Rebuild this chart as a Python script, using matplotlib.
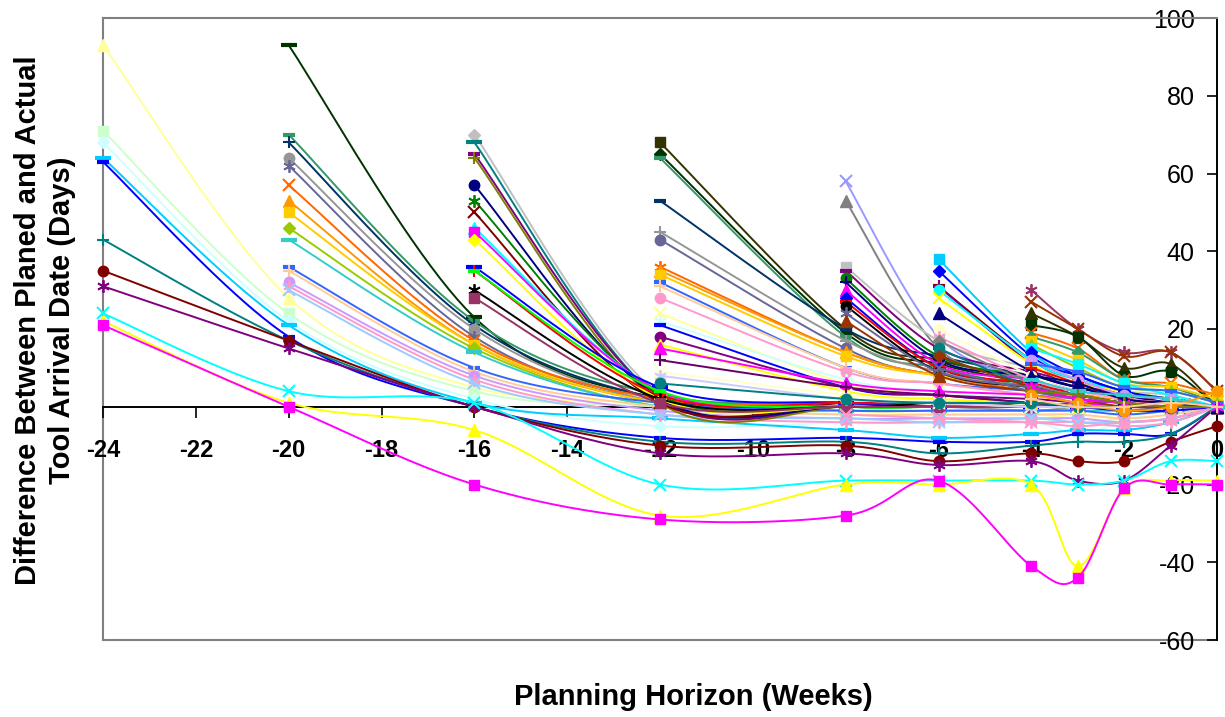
import numpy as np
import matplotlib
matplotlib.use('Agg')
import matplotlib.pyplot as plt

plt.rcParams['font.family'] = ['Liberation Sans', 'DejaVu Sans']

# Planning horizon (weeks) at which each estimate was taken
weeks = [-24, -20, -16, -12, -8, -6, -4, -3, -2, -1, 0]

# Each row lists one tool's deviation (days), starting from the week it first appears
start_m24 = [
    [93, 28, 5, 1, -1, -2, -2, -3, -2, -1, 0],
    [71, 24, 4, 0, -2, -3, -3, -4, -3, -2, 0],
    [68, 22, 2, -5, -4, -4, -4, -7, -4, -3, 0],
    [64, 21, 1, -3, -6, -8, -7, -6, -6, -4, 0],
    [63, 18, 0, -8, -8, -9, -9, -7, -7, -7, 0],
    [43, 17, 0, -9, -9, -12, -10, -9, -9, -7, 0],
    [35, 17, 0, -10, -10, -14, -12, -14, -14, -9, -5],
    [31, 15, 0, -12, -12, -15, -14, -19, -19, -10, 0],
    [24, 4, 1, -20, -19, -19, -19, -20, -19, -14, -14],
    [22, 1, -6, -28, -20, -20, -20, -41, -21, -19, -19],
    [21, 0, -20, -29, -28, -19, -41, -44, -21, -20, -20],
]
colors_m24 = ['#FFFF99', '#CCFFCC', '#CCFFFF', '#00CCFF', '#0000FF', '#008080',
              '#800000', '#800080', '#00FFFF', '#FFFF00', '#FF00FF']
markers_m24 = ['^', 's', 'D', '=', '-', '+', 'o', '*', 'x', '^', 's']

start_m20 = [
    [93, 23, 2, 1, 0, 0, 0, 0, 0, 0],
    [70, 22, 3, 1, 1, 0, 0, 0, 0, 0],
    [68, 21, 2, 0, 0, 0, 0, 0, 0, 0],
    [64, 20, 1, 0, 0, -1, 0, 0, 0, 0],
    [62, 18, 1, 1, 0, 0, 0, -1, 0, 0],
    [57, 17, 2, 1, 1, 0, 1, 0, 0, 0],
    [53, 16, 1, 0, 0, 0, 0, 0, 0, 0],
    [50, 16, 1, 0, 0, 1, 0, 0, 0, 0],
    [46, 15, 0, 0, 0, 0, 0, 0, 0, 0],
    [43, 14, 0, -1, -1, -1, -1, -1, -1, 0],
    [36, 10, 1, -1, -1, -1, -1, -2, -1, 0],
    [35, 9, 0, -2, -2, -2, -2, -3, -2, 0],
    [32, 8, -1, -3, -3, -3, -3, -4, -3, 0],
    [31, 7, -2, -4, -4, -4, -4, -5, -4, 0],
    [30, 6, -2, -3, -4, -3, -4, -4, -3, 0],
]
colors_m20 = ['#003300', '#339966', '#003366', '#969696', '#666699', '#FF6600',
              '#FF9900', '#FFCC00', '#99CC00', '#33CCCC', '#3366FF', '#FFCC99',
              '#CC99FF', '#FF99CC', '#99CCFF']
markers_m20 = ['=', '-', '+', 'o', '*', 'x', '^', 's', 'D', '=', '-', '+', 'o', '*', 'x']

start_m16 = [
    [70, 3, 1, 1, 0, 0, 0, 0, 0],
    [68, 2, 1, 0, 0, 0, 0, 0, 0],
    [65, 2, 0, 0, 0, 0, 0, 0, 0],
    [64, 1, 0, 0, 0, 0, 0, 0, 0],
    [57, 2, 0, 0, 0, 0, 0, 0, 0],
    [53, 3, 1, 0, 1, 0, 0, 0, 0],
    [50, 1, 1, 1, 1, 0, 0, 0, 0],
    [46, 4, 1, 0, 0, 0, 0, 0, 0],
    [45, 4, 1, 1, 0, 0, 0, 0, 0],
    [43, 2, 0, 0, 0, 0, 0, 0, 0],
    [36, 5, 1, 0, 0, 0, 0, 0, 0],
    [35, 3, 1, 1, 0, 1, 0, 0, 0],
    [35, 4, 0, 0, 0, 0, 0, 0, 0],
    [30, 2, 0, 1, 0, 0, 0, 0, 0],
    [28, 1, 0, 0, 0, 0, 0, 0, 0],
]
colors_m16 = ['#C0C0C0', '#008080', '#800080', '#808000', '#000080', '#008000',
              '#800000', '#00FFFF', '#FF00FF', '#FFFF00', '#0000FF', '#FF0000',
              '#00FF00', '#000000', '#993366']
markers_m16 = ['D', '=', '-', '+', 'o', '*', 'x', '^', 's', 'D', '=', '+', '-', '*', 's']

start_m12 = [
    [68, 20, 12, 7, 4, 2, 1, 0],
    [65, 19, 11, 6, 4, 2, 1, 0],
    [64, 18, 10, 5, 3, 1, 1, 0],
    [53, 20, 13, 8, 5, 3, 2, 0],
    [45, 17, 9, 5, 3, 2, 1, 0],
    [43, 15, 8, 5, 3, 2, 1, 0],
    [36, 14, 8, 4, 3, 2, 1, 0],
    [35, 14, 8, 5, 3, 2, 1, 0],
    [34, 13, 8, 5, 3, 1, 1, 0],
    [32, 10, 6, 4, 2, 1, 0, 0],
    [31, 10, 6, 3, 2, 1, 0, 0],
    [28, 9, 6, 3, 2, 1, 0, 0],
    [24, 6, 4, 2, 1, 0, 0, 0],
    [22, 7, 4, 2, 1, 0, 0, 0],
    [21, 5, 3, 1, 0, -1, -1, 0],
    [18, 5, 3, 2, 1, 0, 0, 0],
    [16, 4, 2, 1, 0, 0, 0, 0],
    [15, 6, 4, 3, 1, 0, 0, 0],
    [12, 5, 3, 1, 0, 0, 0, 0],
    [9, 3, 1, 0, 0, 0, 0, 0],
    [8, 2, 1, 0, 0, 0, 0, 0],
    [6, 2, 1, 1, 0, 0, 0, 0],
]
colors_m12 = ['#333300', '#003300', '#339966', '#003366', '#969696', '#666699',
              '#FF6600', '#FF9900', '#FFCC00', '#3366FF', '#FFCC99', '#FF99CC',
              '#FFFF99', '#CCFFFF', '#0000FF', '#800080', '#FFFF00', '#FF00FF',
              '#660066', '#FFFFCC', '#CCCCFF', '#008080']
markers_m12 = ['s', 'D', '-', '-', '+', 'o', '*', '^', 's', '-', '+', 'o',
               'x', '*', '-', 'o', '^', '^', '+', 'x', '*', 'o']

start_m8 = [
    [58, 18, 7, 4, 2, 1, 0],
    [53, 15, 7, 4, 2, 1, 0],
    [36, 17, 10, 7, 4, 3, 0],
    [35, 15, 9, 6, 3, 2, 0],
    [33, 13, 8, 5, 3, 2, 0],
    [32, 12, 8, 5, 2, 1, 0],
    [30, 11, 7, 4, 2, 1, 0],
    [28, 10, 6, 3, 1, 0, 0],
    [27, 10, 6, 3, 1, 0, 0],
    [26, 9, 5, 3, 1, 0, 0],
    [24, 9, 5, 2, 1, 0, 0],
    [22, 8, 4, 2, 0, 0, 0],
    [-2, -3, -4, -5, -4, -3, 0],
]
colors_m8 = ['#9999FF', '#808080', '#C0C0C0', '#800080', '#008000', '#000080',
             '#FF00FF', '#0000FF', '#FF0000', '#000000', '#666699', '#993300',
             '#FF99CC']
markers_m8 = ['x', '^', 's', '-', 'o', '+', '^', 'D', '-', 'o', '*', '^', 'x']

start_m6 = [
    [38, 14, 8, 4, 2, 0],
    [35, 13, 8, 4, 2, 0],
    [31, 12, 7, 3, 2, 0],
    [31, 11, 6, 3, 1, 0],
    [30, 12, 7, 4, 2, 0],
    [28, 11, 6, 4, 2, 0],
    [24, 9, 5, 3, 1, 0],
    [20, 8, 4, 2, 1, 0],
    [18, 7, 4, 2, 0, 0],
    [17, 6, 3, 1, 0, 0],
    [15, 5, 2, 1, 0, 0],
    [13, 5, 2, 1, 0, 0],
    [10, 4, 2, 1, 0, 0],
]
colors_m6 = ['#00CCFF', '#0000FF', '#800000', '#800080', '#00FFFF', '#FFFF00',
             '#000080', '#FFFFCC', '#FF99CC', '#808080', '#008080', '#993300',
             '#666699']
markers_m6 = ['s', 'D', '-', '+', 'o', 'x', '^', 'o', '*', 'D', 'o', 'D', 'x']

start_m4 = [
    [30, 20, 14, 14, 4],
    [27, 20, 13, 14, 4],
    [24, 18, 10, 11, 0],
    [21, 18, 8, 9, 0],
    [19, 15, 7, 6, 3],
    [18, 14, 7, 5, 1],
    [17, 12, 6, 5, 2],
    [16, 10, 5, 4, 1],
    [15, 11, 6, 3, 0],
    [14, 8, 4, 2, 0],
    [12, 7, 3, 2, 0],
    [11, 9, 5, 4, 1],
    [10, 6, 2, 1, 0],
    [8, 6, 2, 1, 0],
    [7, 4, 3, 2, 0],
    [5, 2, 1, 0, 0],
    [4, 3, 1, 0, 0],
    [3, 1, -1, 0, 4],
    [2, 0, 0, 1, 0],
]
colors_m4 = ['#993366', '#993300', '#333300', '#003300', '#FF6600', '#339966',
             '#FFCC00', '#99CC00', '#00FFFF', '#0000FF', '#CC99FF', '#3366FF',
             '#FF0000', '#000080', '#33CCCC', '#FF00FF', '#808000', '#FF9900',
             '#FFCC99']
markers_m4 = ['*', 'x', '^', 's', 'x', 'D', 's', '^', 's', 'D', 'o', '-',
              '+', '^', '=', '*', '+', 'o', '+']

groups = [
    (start_m24, colors_m24, markers_m24),
    (start_m20, colors_m20, markers_m20),
    (start_m16, colors_m16, markers_m16),
    (start_m12, colors_m12, markers_m12),
    (start_m8, colors_m8, markers_m8),
    (start_m6, colors_m6, markers_m6),
    (start_m4, colors_m4, markers_m4),
]

marker_styles = {
    'D': dict(marker='D', ms=6.5),
    's': dict(marker='s', ms=7),
    '^': dict(marker='^', ms=8),
    'x': dict(marker='x', ms=8, mew=1.5),
    '*': dict(marker=(6, 2, 0), ms=9, mew=1.3),
    'o': dict(marker='o', ms=7.5),
    '+': dict(marker='+', ms=9, mew=1.5),
    '-': dict(marker='_', ms=8, mew=3),
    '=': dict(marker='_', ms=11, mew=3),
}


def smooth(xs, ys, n=24):
    # Excel-style smoothed line (Bezier through the points)
    pts = np.column_stack([xs, ys]).astype(float)
    out = [pts[0]]
    t = np.linspace(0, 1, n)[1:, None]
    for i in range(len(pts) - 1):
        p0 = pts[i - 1] if i > 0 else pts[i]
        p1, p2 = pts[i], pts[i + 1]
        p3 = pts[i + 2] if i + 2 < len(pts) else pts[i + 1]
        c1 = p1 + (p2 - p0) / 6
        c2 = p2 - (p3 - p1) / 6
        seg = (1 - t)**3 * p1 + 3 * (1 - t)**2 * t * c1 + 3 * (1 - t) * t**2 * c2 + t**3 * p2
        out.extend(seg)
    return np.array(out)


fig = plt.figure(figsize=(12.25, 7.17), dpi=100)
ax = fig.add_axes([103 / 1225, 1 - 640 / 717, (1217 - 103) / 1225, (640 - 18) / 717])

k = 0
for rows, cols, mks in groups:
    for vals, c, m in zip(rows, cols, mks):
        xs = weeks[len(weeks) - len(vals):]
        curve = smooth(xs, vals)
        z = 3 + k * 0.01
        ax.plot(curve[:, 0], curve[:, 1], color=c, lw=1.4, zorder=z, clip_on=False)
        ax.plot(xs, vals, ls='none', color=c, mfc=c, mec=c, zorder=z + 0.005,
                clip_on=False, **marker_styles[m])
        k += 1

ax.set_xlim(-24, 0)
ax.set_ylim(-60, 100)

# axes crossing at x = 0 and y = 0
ax.spines['left'].set_position(('data', 0))
ax.spines['bottom'].set_position(('data', 0))
ax.spines['left'].set_color('black')
ax.spines['bottom'].set_color('black')
ax.spines['left'].set_linewidth(1.4)
ax.spines['bottom'].set_linewidth(1.4)
ax.spines['right'].set_visible(False)
ax.spines['top'].set_color('#808080')
ax.spines['top'].set_linewidth(1.5)
ax.plot([0, 0], [0, 1], transform=ax.transAxes, color='#808080', lw=1.5, clip_on=False, zorder=1)
ax.plot([0, 1], [0, 0], transform=ax.transAxes, color='#808080', lw=1.5, clip_on=False, zorder=1)

xt = list(range(-24, 1, 2))
ax.set_xticks(xt)
ax.set_xticklabels([str(v) for v in xt], fontweight='bold', fontsize=17)
yt = list(range(-60, 101, 20))
ax.set_yticks(yt)
ax.set_yticklabels([str(v) for v in yt], fontsize=18)
ax.tick_params(axis='x', direction='out', length=8, width=1.2, pad=15)
ax.tick_params(axis='y', direction='out', length=7, width=1.2, pad=9)

fig.text(693 / 1225, 1 - 697 / 717, 'Planning Horizon (Weeks)', fontsize=21,
         fontweight='bold', ha='center', va='center')
fig.text(45 / 1225, 1 - 320 / 717,
         'Difference Between Planed and Actual\nTool Arrival Date (Days)',
         fontsize=21, fontweight='bold', rotation=90, ha='center', va='center',
         multialignment='center', linespacing=1.3)

fig.savefig('out.png', dpi=100)
